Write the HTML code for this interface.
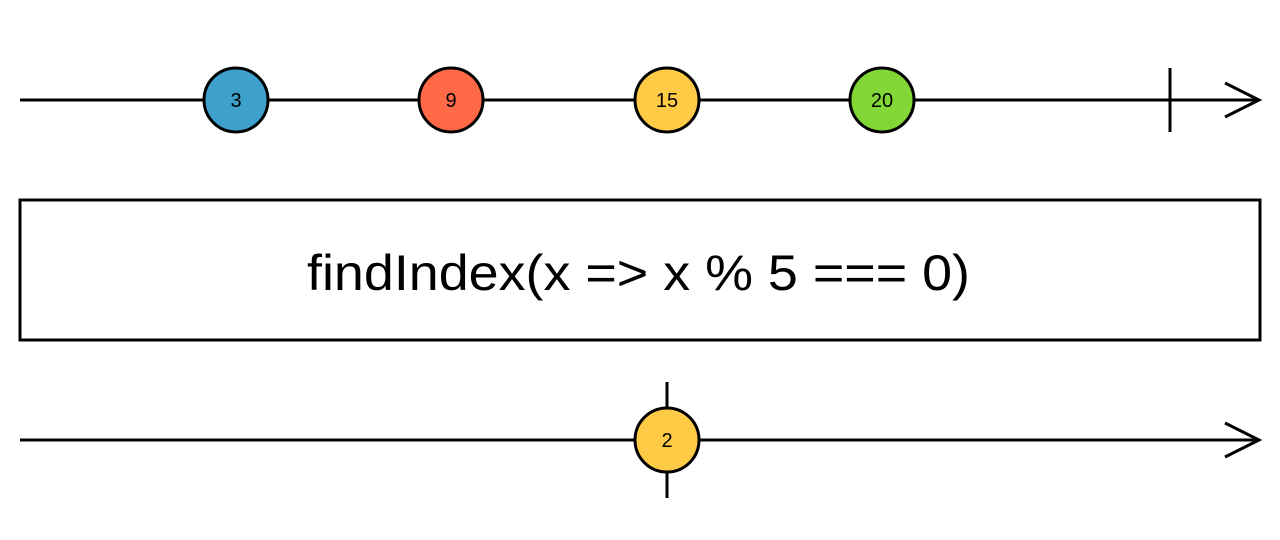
<!DOCTYPE html>
<html><head><meta charset="utf-8"><style>
html,body{margin:0;padding:0;background:#fff;}
svg{display:block;}
</style></head><body>
<svg width="1280" height="540" viewBox="0 0 1280 540" xmlns="http://www.w3.org/2000/svg">
<g stroke="#000" stroke-width="3" fill="none">
<line x1="20" y1="100" x2="1258" y2="100"/>
<polyline points="1225,83 1259,100 1225,117"/>
<line x1="1170" y1="68" x2="1170" y2="132"/>
<rect x="20" y="200" width="1240" height="140"/>
<line x1="20" y1="440" x2="1258" y2="440"/>
<polyline points="1225,423 1259,440 1225,457"/>
<line x1="667" y1="382" x2="667" y2="498"/>
</g>
<g stroke="#000" stroke-width="3">
<circle cx="236" cy="100" r="32" fill="#3ea1cb"/>
<circle cx="451" cy="100" r="32" fill="#ff6946"/>
<circle cx="667" cy="100" r="32" fill="#ffcb46"/>
<circle cx="882" cy="100" r="32" fill="#82d736"/>
<circle cx="667" cy="440" r="32" fill="#ffcb46"/>
</g>
<g font-family="Liberation Sans, sans-serif" font-size="20" text-anchor="middle" fill="#000">
<text x="236" y="107">3</text>
<text x="451" y="107">9</text>
<text x="667" y="107">15</text>
<text x="882" y="107">20</text>
<text x="667" y="447">2</text>
</g>
<text x="307" y="290" font-family="Liberation Sans, sans-serif" font-size="50" textLength="663" lengthAdjust="spacingAndGlyphs" fill="#000">findIndex(x =&gt; x % 5 === 0)</text>
</svg>
</body></html>
